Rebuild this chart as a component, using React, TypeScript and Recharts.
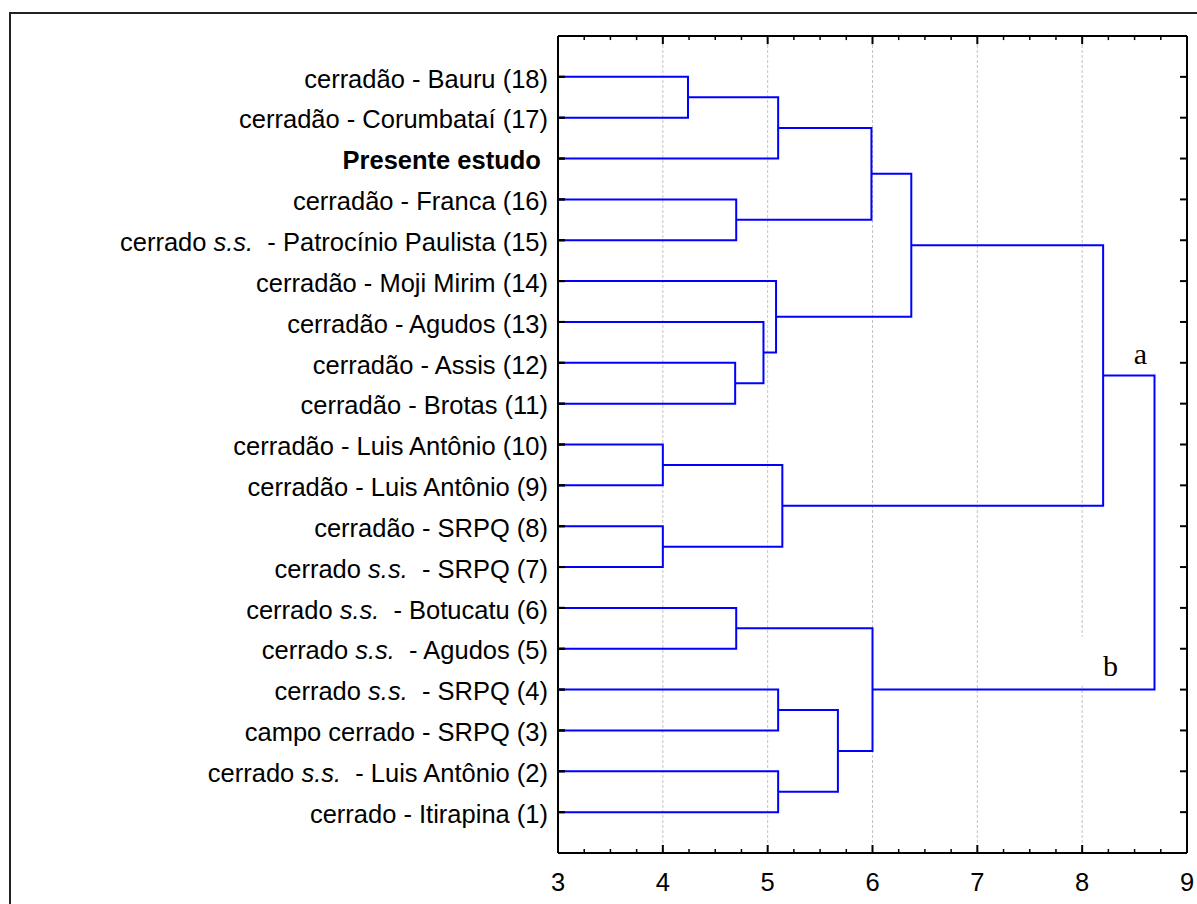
import React from 'react';
import { ComposedChart, XAxis, YAxis, Scatter, ReferenceDot, ReferenceLine } from 'recharts';

// Leaves of the dendrogram, top to bottom
const leafLabels: string[] = [
  'cerradão - Bauru (18)',
  'cerradão - Corumbataí (17)',
  'Presente estudo ',
  'cerradão - Franca (16)',
  'cerrado s.s.  - Patrocínio Paulista (15)',
  'cerradão - Moji Mirim (14)',
  'cerradão - Agudos (13)',
  'cerradão - Assis (12)',
  'cerradão - Brotas (11)',
  'cerradão - Luis Antônio (10)',
  'cerradão - Luis Antônio (9)',
  'cerradão - SRPQ (8)',
  'cerrado s.s.  - SRPQ (7)',
  'cerrado s.s.  - Botucatu (6)',
  'cerrado s.s.  - Agudos (5)',
  'cerrado s.s.  - SRPQ (4)',
  'campo cerrado - SRPQ (3)',
  'cerrado s.s.  - Luis Antônio (2)',
  'cerrado - Itirapina (1)',
];

// Merge steps: node ids 0..18 are leaves, each merge creates node 19 + its index
const mergeLeft: number[] = [0, 19, 3, 20, 7, 6, 5, 22, 9, 11, 27, 26, 13, 15, 17, 32, 31, 30];
const mergeRight: number[] = [1, 2, 4, 21, 8, 23, 24, 25, 10, 12, 28, 29, 14, 16, 18, 33, 34, 35];
const mergeHeight: number[] = [4.24, 5.1, 4.7, 5.99, 4.69, 4.96, 5.08, 6.37, 4.0, 4.0, 5.14, 8.2, 4.7, 5.1, 5.1, 5.67, 6.0, 8.69];

// Axis ticks
const distanceTicks: number[] = [3, 4, 5, 6, 7, 8, 9];
const distanceMinorTicks: number[] = [
  3.25, 3.5, 3.75, 4.25, 4.5, 4.75, 5.25, 5.5, 5.75, 6.25, 6.5, 6.75, 7.25, 7.5, 7.75, 8.25, 8.5, 8.75,
];
const X_MIN = 3;
const X_MAX = 9;

// Cluster labels: the two groups joined at the root
const clusterNames: string[] = ['a', 'b'];
const clusterNode: number[] = [30, 35];

const rowTicks = leafLabels.map((_, i) => i + 1);
const allDistanceTicks = [...distanceTicks, ...distanceMinorTicks].sort((a, b) => a - b);
const ROOT = mergeHeight.length - 1;
const Y_TOP = 0;
const Y_BOTTOM = leafLabels.length + 1;

// Layout
const CHART_W = 1197;
const CHART_H = 904;
const MARGIN = { top: 36, right: 10, bottom: 0, left: 0 };
const PLOT_RIGHT = CHART_W - MARGIN.right;
const MAJOR_LEN = 8;
const MINOR_LEN = 4;
const ROW_TICK_LEN = 7;
// frame tick lengths in data units (one row is ~41 px, one distance unit ~105 px)
const TOP_MAJOR_UNITS = 0.2;
const TOP_MINOR_UNITS = 0.1;
const LEFT_TICK_UNITS = 0.067;

type Node = { x: number; y: number };

function buildNodes(): Node[] {
  const nodes: Node[] = leafLabels.map((_, i) => ({ x: X_MIN, y: i + 1 }));
  mergeHeight.forEach((h, i) => {
    const a = nodes[mergeLeft[i]];
    const b = nodes[mergeRight[i]];
    nodes.push({ x: h, y: (a.y + b.y) / 2 });
  });
  return nodes;
}

const nodes = buildNodes();

// Each merge is drawn as a bracket: child A -> height -> child B
const links = mergeHeight.map((h, i) => {
  const a = nodes[mergeLeft[i]];
  const b = nodes[mergeRight[i]];
  return [
    { x: a.x, y: a.y },
    { x: h, y: a.y },
    { x: h, y: b.y },
    { x: b.x, y: b.y },
  ];
});

// Short inward tick segments on the top and left frames
const topTickSegments = allDistanceTicks.map((v) => {
  const major = distanceTicks.includes(v);
  return {
    major,
    pts: [
      { x: v, y: Y_TOP },
      { x: v, y: Y_TOP + (major ? TOP_MAJOR_UNITS : TOP_MINOR_UNITS) },
    ],
  };
});
const leftTickSegments = rowTicks.map((r) => [
  { x: X_MIN, y: r },
  { x: X_MIN + LEFT_TICK_UNITS, y: r },
]);

const FONT = '"Liberation Sans", Arial, Helvetica, sans-serif';
const SERIF = '"Liberation Serif", "Times New Roman", serif';
const BLUE = '#0000ff';

const EmptyShape = () => <g />;
const NoLabel = () => <g />;

// Left axis: leaf name plus the inward tick marks on the right frame
const LeafTick = (props: any) => {
  const { x, y, payload } = props;
  const label = leafLabels[Math.round(payload.value) - 1] ?? '';
  const bold = label.startsWith('Presente');
  const parts = label.split('s.s.');
  return (
    <g>
      <line x1={x} x2={x + ROW_TICK_LEN} y1={y} y2={y} stroke="#000" strokeWidth={2} />
      <line x1={PLOT_RIGHT - ROW_TICK_LEN} x2={PLOT_RIGHT} y1={y} y2={y} stroke="#000" strokeWidth={2} />
      <text
        x={x - 10}
        y={y}
        dy="0.42em"
        textAnchor="end"
        fontFamily={FONT}
        fontSize={25.5}
        fontWeight={bold ? 'bold' : 'normal'}
        fill="#000"
        style={{ whiteSpace: 'pre' }}
      >
        {parts.length > 1 ? (
          <>
            <tspan>{parts[0]}</tspan>
            <tspan fontStyle="italic">s.s.</tspan>
            <tspan>{parts[1]}</tspan>
          </>
        ) : (
          label
        )}
      </text>
    </g>
  );
};

// Bottom axis: inward ticks, numbers on the majors
const DistanceTick = (props: any) => {
  const { x, y, payload } = props;
  const v = payload.value as number;
  const major = distanceTicks.includes(v);
  const len = major ? MAJOR_LEN : MINOR_LEN;
  return (
    <g>
      <line x1={x} x2={x} y1={y} y2={y - len} stroke="#000" strokeWidth={major ? 2 : 1.5} />
      {major && (
        <text x={x} y={y + 20} dy="0.72em" textAnchor="middle" fontFamily={FONT} fontSize={25.5} fill="#000">
          {v}
        </text>
      )}
    </g>
  );
};

const ClusterLabelA = (props: any) => {
  const { cx, cy } = props;
  return (
    <text x={cx - 14} y={cy - 12} textAnchor="middle" fontFamily={SERIF} fontSize={30} fill="#000">
      {clusterNames[0]}
    </text>
  );
};

const ClusterLabelB = (props: any) => {
  const { cx, cy } = props;
  return (
    <g>
      <rect x={cx - 82} y={cy - 53} width={70} height={49} fill="#fff" />
      <text x={cx - 44} y={cy - 14} textAnchor="middle" fontFamily={SERIF} fontSize={30} fill="#000">
        {clusterNames[1]}
      </text>
    </g>
  );
};

export default function App() {
  const rootX = mergeHeight[ROOT];
  const nodeA = nodes[clusterNode[0]];
  const nodeB = nodes[clusterNode[1]];
  const axisStroke = { stroke: '#000', strokeWidth: 2 };
  const yDomain = [Y_TOP, Y_BOTTOM];
  return (
    <div style={{ position: 'absolute', left: 0, top: 0, width: CHART_W, height: CHART_H, background: '#fff' }}>
      <div
        style={{
          position: 'absolute',
          left: 9,
          top: 12,
          width: 1188,
          height: 892,
          borderTop: '2px solid #222',
          borderLeft: '2px solid #222',
          boxSizing: 'border-box',
        }}
      />
      <div style={{ position: 'absolute', left: 0, top: 0 }}>
        <ComposedChart width={CHART_W} height={CHART_H} margin={MARGIN}>
          <XAxis
            xAxisId="bottom"
            dataKey="x"
            type="number"
            domain={[X_MIN, X_MAX]}
            allowDataOverflow
            ticks={allDistanceTicks}
            orientation="bottom"
            height={51}
            axisLine={axisStroke}
            tickLine={false}
            tickSize={0}
            tickMargin={0}
            tick={<DistanceTick />}
            interval={0}
          />
          <XAxis
            xAxisId="bottomLine"
            type="number"
            domain={[X_MIN, X_MAX]}
            allowDataOverflow
            ticks={distanceTicks}
            orientation="bottom"
            mirror
            height={1}
            axisLine={axisStroke}
            tickLine={false}
            tick={NoLabel}
            interval={0}
          />
          <XAxis
            xAxisId="top"
            type="number"
            domain={[X_MIN, X_MAX]}
            allowDataOverflow
            ticks={distanceTicks}
            orientation="top"
            mirror
            height={1}
            axisLine={axisStroke}
            tickLine={false}
            tick={NoLabel}
            interval={0}
          />
          <YAxis
            yAxisId="left"
            dataKey="y"
            type="number"
            domain={yDomain}
            allowDataOverflow
            reversed
            ticks={rowTicks}
            orientation="left"
            width={558}
            axisLine={axisStroke}
            tickLine={false}
            tickSize={0}
            tickMargin={0}
            tick={<LeafTick />}
            interval={0}
          />
          <YAxis
            yAxisId="right"
            type="number"
            domain={yDomain}
            allowDataOverflow
            reversed
            ticks={rowTicks}
            orientation="right"
            mirror
            width={1}
            axisLine={axisStroke}
            tickLine={false}
            tick={NoLabel}
            interval={0}
          />
          {/* dashed vertical grid at the inner major ticks */}
          {distanceTicks.slice(1, -1).map((v) => (
            <ReferenceLine
              key={`grid-${v}`}
              xAxisId="bottom"
              yAxisId="left"
              x={v}
              stroke="#c4c4c4"
              strokeWidth={1}
              strokeDasharray="3 2"
            />
          ))}
          {links.map((seg, i) => (
            <Scatter
              key={`link-${i}`}
              data={seg}
              xAxisId="bottom"
              yAxisId="left"
              line={{ stroke: BLUE, strokeWidth: 2 }}
              lineType="joint"
              shape={EmptyShape}
              fill={BLUE}
              isAnimationActive={false}
            />
          ))}
          {topTickSegments.map((t, i) => (
            <Scatter
              key={`top-${i}`}
              data={t.pts}
              xAxisId="bottom"
              yAxisId="left"
              line={{ stroke: '#000', strokeWidth: t.major ? 2 : 1.5 }}
              lineType="joint"
              shape={EmptyShape}
              fill="#000"
              isAnimationActive={false}
            />
          ))}
          {leftTickSegments.map((seg, i) => (
            <Scatter
              key={`left-${i}`}
              data={seg}
              xAxisId="bottom"
              yAxisId="left"
              line={{ stroke: '#000', strokeWidth: 2 }}
              lineType="joint"
              shape={EmptyShape}
              fill="#000"
              isAnimationActive={false}
            />
          ))}
          <ReferenceDot
            xAxisId="bottom"
            yAxisId="left"
            x={rootX}
            y={nodeA.y}
            r={0}
            ifOverflow="visible"
            shape={ClusterLabelA}
          />
          <ReferenceDot
            xAxisId="bottom"
            yAxisId="left"
            x={rootX}
            y={nodeB.y}
            r={0}
            ifOverflow="visible"
            shape={ClusterLabelB}
          />
        </ComposedChart>
      </div>
    </div>
  );
}
